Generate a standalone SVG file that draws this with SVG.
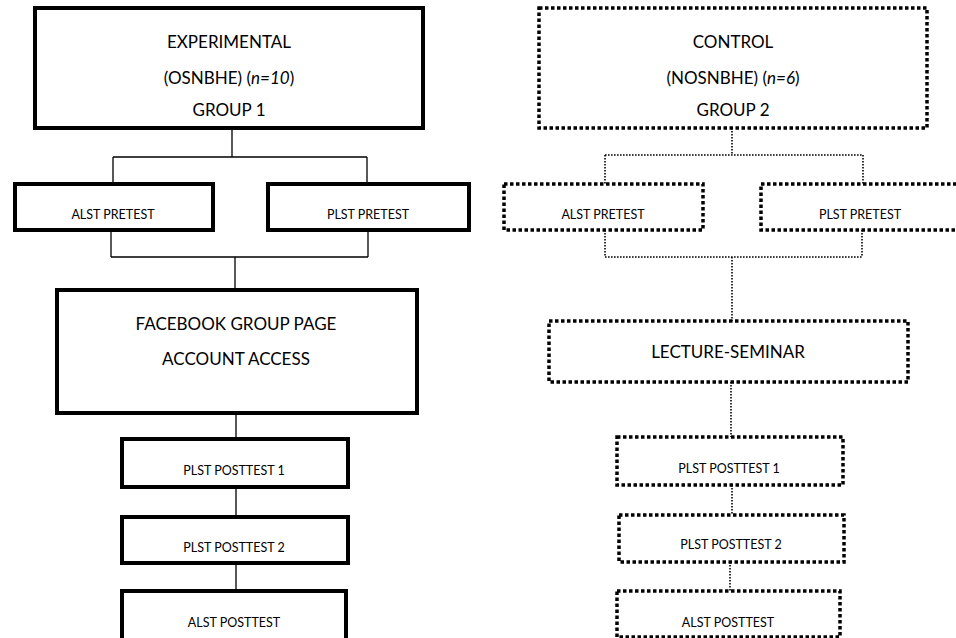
<svg xmlns="http://www.w3.org/2000/svg" width="956" height="638" viewBox="0 0 956 638">
<style>
  .solid { fill: #fff; stroke: #000; stroke-width: 4; }
  .dot { fill: #fff; stroke: #000; stroke-width: 3.5; stroke-dasharray: 3.5 2.5; }
  .lnS { fill: none; stroke: #000; stroke-width: 1.3; }
  .lnD { fill: none; stroke: #000; stroke-width: 1.6; stroke-dasharray: 1.6 1.4; }
  text { font-family: Lato, "Liberation Sans", Arial, sans-serif; fill: #000; text-anchor: middle; }
  .big { font-size: 17px; }
  .sm { font-size: 12.5px; }
</style>
<rect width="956" height="638" fill="#fff"/>

<g id="connectors">
  <path class="lnS" d="M232,128 V157 M113,157 H367 M113,157 V184 M367,157 V184"/>
  <path class="lnS" d="M111,230 V257 M368,230 V257 M111,257 H368 M235,257 V290"/>
  <path class="lnS" d="M236,413 V439 M236,487 V517 M236,563 V591"/>
  <path class="lnD" d="M732,128 V155 M605,155 H863 M605,155 V184 M863,155 V184"/>
  <path class="lnD" d="M605,230 V257 M862,230 V257 M605,257 H862 M732,257 V321"/>
  <path class="lnD" d="M731,382 V437 M732,485 V515 M730,562 V591"/>
</g>

<g id="exp">
  <rect class="solid" x="35" y="8" width="388" height="120"/>
  <text class="big" x="229" y="48">EXPERIMENTAL</text>
  <text class="big" x="229" y="84">(OSNBHE) (<tspan font-style="italic">n=10</tspan>)</text>
  <text class="big" x="229" y="116">GROUP 1</text>
</g>
<g id="exp-alst-pre">
  <rect class="solid" x="15" y="184" width="198" height="46"/>
  <text class="sm" x="113" y="219">ALST PRETEST</text>
</g>
<g id="exp-plst-pre">
  <rect class="solid" x="268" y="184" width="201" height="46"/>
  <text class="sm" x="368" y="219">PLST PRETEST</text>
</g>
<g id="facebook">
  <rect class="solid" x="57" y="290" width="360" height="123"/>
  <text class="big" x="236" y="330">FACEBOOK GROUP PAGE</text>
  <text class="big" x="236" y="365">ACCOUNT ACCESS</text>
</g>
<g id="exp-plst-post1">
  <rect class="solid" x="122" y="439" width="226" height="48"/>
  <text class="sm" x="234" y="475">PLST POSTTEST 1</text>
</g>
<g id="exp-plst-post2">
  <rect class="solid" x="122" y="517" width="226" height="46"/>
  <text class="sm" x="234" y="552">PLST POSTTEST 2</text>
</g>
<g id="exp-alst-post">
  <rect class="solid" x="122" y="591" width="224" height="52"/>
  <text class="sm" x="234" y="627">ALST POSTTEST</text>
</g>

<g id="ctrl">
  <rect class="dot" x="539" y="8" width="388" height="120"/>
  <text class="big" x="733" y="48">CONTROL</text>
  <text class="big" x="733" y="84">(NOSNBHE) (<tspan font-style="italic">n=6</tspan>)</text>
  <text class="big" x="733" y="116">GROUP 2</text>
</g>
<g id="ctrl-alst-pre">
  <rect class="dot" x="504" y="184" width="199" height="46"/>
  <text class="sm" x="603" y="219">ALST PRETEST</text>
</g>
<g id="ctrl-plst-pre">
  <rect class="dot" x="761" y="184" width="200" height="46"/>
  <text class="sm" x="860" y="219">PLST PRETEST</text>
</g>
<g id="lecture">
  <rect class="dot" x="549" y="321" width="359" height="61"/>
  <text class="big" x="728" y="358">LECTURE-SEMINAR</text>
</g>
<g id="ctrl-plst-post1">
  <rect class="dot" x="617" y="437" width="226" height="48"/>
  <text class="sm" x="729" y="473">PLST POSTTEST 1</text>
</g>
<g id="ctrl-plst-post2">
  <rect class="dot" x="619" y="515" width="225" height="47"/>
  <text class="sm" x="731" y="549">PLST POSTTEST 2</text>
</g>
<g id="ctrl-alst-post">
  <rect class="dot" x="617" y="591" width="223" height="46"/>
  <text class="sm" x="728" y="627">ALST POSTTEST</text>
</g>
</svg>
